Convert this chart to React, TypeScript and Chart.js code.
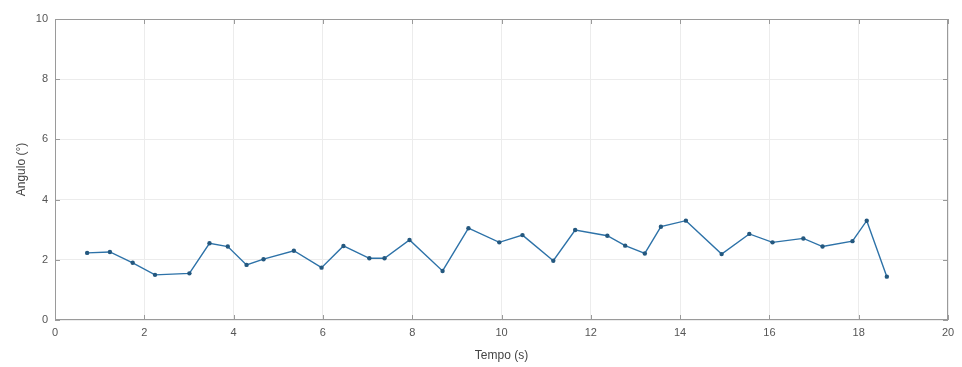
import React, { useEffect, useRef } from "react";
import { Chart, registerables } from "chart.js";

Chart.register(...registerables);

// Time stamps (s) and measured angle (°)
const tempo: number[] = [
  0.72, 1.23, 1.74, 2.24, 3.01, 3.46, 3.87, 4.29, 4.67, 5.35, 5.97, 6.46,
  7.04, 7.38, 7.94, 8.68, 9.26, 9.95, 10.47, 11.16, 11.65, 12.37, 12.77,
  13.21, 13.57, 14.13, 14.93, 15.55, 16.07, 16.76, 17.19, 17.86, 18.18, 18.63,
];
const angulo: number[] = [
  2.23, 2.26, 1.9, 1.5, 1.55, 2.55, 2.44, 1.83, 2.02, 2.3, 1.74, 2.46,
  2.05, 2.05, 2.66, 1.63, 3.05, 2.58, 2.82, 1.97, 2.99, 2.8, 2.47,
  2.21, 3.1, 3.3, 2.19, 2.86, 2.58, 2.71, 2.44, 2.62, 3.3, 1.44,
];

const xTicks = { min: 0, max: 20, step: 2 };
const yTicks = { min: 0, max: 10, step: 2 };

const xLabel = "Tempo (s)";
const yLabel = "Angulo (°)";

const FONT = "'Liberation Sans', Arial, sans-serif";
const AXIS_COLOR = "#9a9a9a";
const TEXT_COLOR = "#555555";

// Draws the axes box with inward tick marks on all four sides
const boxPlugin = {
  id: "boxWithTicks",
  afterDraw(chart: any) {
    const { ctx, chartArea } = chart;
    const { left, right, top, bottom } = chartArea;
    const xs = chart.scales.x;
    const ys = chart.scales.y;
    const len = 5;
    ctx.save();
    ctx.strokeStyle = AXIS_COLOR;
    ctx.lineWidth = 1;
    ctx.strokeRect(left + 0.5, top + 0.5, right - left - 1, bottom - top - 1);
    ctx.beginPath();
    xs.ticks.forEach((t: any) => {
      const px = Math.round(xs.getPixelForValue(t.value)) + 0.5;
      ctx.moveTo(px, bottom);
      ctx.lineTo(px, bottom - len);
      ctx.moveTo(px, top);
      ctx.lineTo(px, top + len);
    });
    ys.ticks.forEach((t: any) => {
      const py = Math.round(ys.getPixelForValue(t.value)) + 0.5;
      ctx.moveTo(left, py);
      ctx.lineTo(left + len, py);
      ctx.moveTo(right, py);
      ctx.lineTo(right - len, py);
    });
    ctx.stroke();
    ctx.restore();
  },
};

export default function App() {
  const canvasRef = useRef<HTMLCanvasElement | null>(null);

  useEffect(() => {
    document.body.style.margin = "0";
    const canvas = canvasRef.current;
    if (!canvas) return;
    const chart = new Chart(canvas, {
      type: "line",
      data: {
        datasets: [
          {
            data: tempo.map((t, i) => ({ x: t, y: angulo[i] })),
            borderColor: "#2d72a8",
            borderWidth: 1.4,
            pointRadius: 2.2,
            pointBackgroundColor: "#24587f",
            pointBorderColor: "#24587f",
            pointBorderWidth: 0,
            tension: 0,
            fill: false,
          },
        ],
      },
      options: {
        animation: false,
        responsive: false,
        maintainAspectRatio: false,
        devicePixelRatio: 1,
        layout: { padding: { top: 19, right: 14, left: 0, bottom: 0 } },
        plugins: {
          legend: { display: false },
          tooltip: { enabled: false },
        },
        scales: {
          x: {
            type: "linear",
            min: xTicks.min,
            max: xTicks.max,
            ticks: {
              stepSize: xTicks.step,
              color: TEXT_COLOR,
              font: { family: FONT, size: 11 },
              padding: 6,
            },
            grid: { color: "#ececec", drawTicks: false },
            border: { display: false },
            title: {
              display: true,
              text: xLabel,
              color: "#444444",
              font: { family: FONT, size: 12 },
              padding: { top: 4, bottom: 4 },
            },
            afterFit(scale: any) {
              scale.height = 47;
            },
          },
          y: {
            type: "linear",
            min: yTicks.min,
            max: yTicks.max,
            ticks: {
              stepSize: yTicks.step,
              color: TEXT_COLOR,
              font: { family: FONT, size: 11 },
              padding: 7,
            },
            grid: { color: "#ececec", drawTicks: false },
            border: { display: false },
            title: {
              display: true,
              text: yLabel,
              color: "#444444",
              font: { family: FONT, size: 12 },
              padding: { top: 14, bottom: 4 },
            },
            afterFit(scale: any) {
              scale.width = 55;
            },
          },
        },
      },
      plugins: [boxPlugin],
    });
    return () => chart.destroy();
  }, []);

  return (
    <div style={{ width: 962, height: 367, background: "#ffffff" }}>
      <canvas ref={canvasRef} width={962} height={367} style={{ display: "block" }} />
    </div>
  );
}
